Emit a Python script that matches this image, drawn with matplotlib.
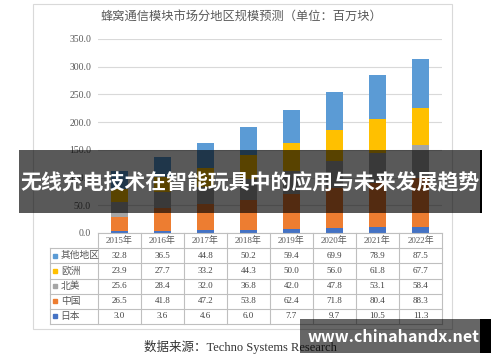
import numpy as np
import matplotlib.pyplot as plt
from matplotlib.patches import Rectangle

plt.rcParams["font.family"] = ["Noto Sans CJK SC", "DejaVu Sans"]

W, H = 500, 362

years = ["2015年", "2016年", "2017年", "2018年", "2019年", "2020年", "2021年", "2022年"]
# stack order from the bottom
regions = ["日本", "中国", "北美", "欧洲", "其他地区"]
japan = [3.0, 3.6, 4.6, 6.0, 7.7, 9.7, 10.5, 11.3]
china = [26.5, 41.8, 47.2, 53.8, 62.4, 71.8, 80.4, 88.3]
north_america = [25.6, 28.4, 32.0, 36.8, 42.0, 47.8, 53.1, 58.4]
europe = [23.9, 27.7, 33.2, 44.3, 50.0, 56.0, 61.8, 67.7]
others = [32.8, 36.5, 44.8, 50.2, 59.4, 69.9, 78.9, 87.5]
series = [japan, china, north_america, europe, others]
colors = ["#4472C4", "#ED7D31", "#A5A5A5", "#FFC000", "#5B9BD5"]
yticks = [0, 50, 100, 150, 200, 250, 300, 350]

title = "蜂窝通信模块市场分地区规模预测（单位：百万块）"
source = "数据来源：Techno Systems Research"
banner = "无线充电技术在智能玩具中的应用与未来发展趋势"
watermark = "www.chinahandx.net"

SERIF = ["Liberation Serif", "Noto Sans CJK SC"]
TXT = "#595959"


def fx(px):
    return px / W


def fy(py):
    return 1 - py / H


fig = plt.figure(figsize=(W / 100, H / 100), dpi=100)

# outer chart frame
fig.add_artist(Rectangle((fx(33), fy(329)), fx(452) - fx(33), fy(4) - fy(329),
                         transform=fig.transFigure, fill=False, ec="#D9D9D9", lw=0.8))

# bars
x0, x1 = 98, 442
ax = fig.add_axes([fx(x0), fy(233), fx(x1) - fx(x0), fy(39) - fy(233)])
x = np.arange(len(years))
bottom = np.zeros(len(years))
for vals, c in zip(series, colors):
    ax.bar(x, vals, width=0.4, bottom=bottom, color=c, zorder=3)
    bottom += np.array(vals)
ax.set_xlim(-0.5, len(years) - 0.5)
ax.set_ylim(0, 350)
ax.set_yticks(yticks)
ax.set_yticklabels([f"{v:.1f}" for v in yticks], family=SERIF, fontsize=7, color=TXT)
ax.tick_params(axis="y", length=0, pad=5)
ax.set_xticks([])
ax.grid(axis="y", color="#D9D9D9", lw=0.8, zorder=0)
for s in ax.spines.values():
    s.set_visible(False)

# data table below the bars
tx0 = 50
lab_w = (x0 - tx0) / ((x1 - x0) / len(years))
tax = fig.add_axes([fx(tx0), fy(324), fx(x1) - fx(tx0), fy(233) - fy(324)])
tax.set_xlim(-0.5 - lab_w, len(years) - 0.5)
tax.set_ylim(6, 0)
tax.axis("off")
lc = "#BFBFBF"
for r in range(7):
    xs = -0.5 if r == 0 else -0.5 - lab_w
    tax.plot([xs, len(years) - 0.5], [r, r], color=lc, lw=0.8, clip_on=False)
tax.plot([-0.5 - lab_w] * 2, [1, 6], color=lc, lw=0.8, clip_on=False)
for c in range(len(years) + 1):
    tax.plot([c - 0.5] * 2, [0, 6], color=lc, lw=0.8, clip_on=False)
for i, yr in enumerate(years):
    tax.text(i, 0.5, yr, ha="center", va="center", fontsize=6.5, color=TXT, family=SERIF)
for row, idx in enumerate(range(len(regions) - 1, -1, -1)):
    yy = row + 1.5
    tax.plot(-0.5 - lab_w + 0.12, yy, marker="s", ms=3.2, color=colors[idx], clip_on=False)
    tax.text(-0.5 - lab_w + 0.25, yy, regions[idx], ha="left", va="center",
             fontsize=7, color=TXT, family=SERIF)
    for i, v in enumerate(series[idx]):
        tax.text(i, yy, f"{v:.1f}", ha="center", va="center", fontsize=6.5,
                 color="#404040", family=SERIF)

fig.text(fx(241), fy(17), title, ha="center", va="center", fontsize=8.8, color=TXT)
fig.text(fx(240), fy(347), source, ha="center", va="center", fontsize=9,
         color="#333333", family=SERIF)

# overlay banner
fig.add_artist(Rectangle((fx(19), fy(213)), fx(480) - fx(19), fy(150) - fy(213),
                         transform=fig.transFigure, color="black", alpha=0.65, lw=0, zorder=10))
fig.add_artist(Rectangle((fx(480), fy(213)), fx(482) - fx(480), fy(150) - fy(213),
                         transform=fig.transFigure, color="black", lw=0, zorder=10))
fig.text(fx(250), fy(183), banner, ha="center", va="center", fontsize=15,
         color="white", weight="bold", zorder=11)

# watermark
fig.add_artist(Rectangle((fx(300), fy(353)), fx(480) - fx(300), fy(319) - fy(353),
                         transform=fig.transFigure, color="black", alpha=0.6, lw=0, zorder=10))
fig.add_artist(Rectangle((fx(480), fy(353)), fx(491) - fx(480), fy(319) - fy(353),
                         transform=fig.transFigure, color="black", lw=0, zorder=10))
fig.text(fx(394), fy(337), watermark, ha="center", va="center", fontsize=11.6,
         color="white", weight="bold", family="Noto Sans CJK SC", zorder=11)

fig.savefig("out.png", dpi=100)
